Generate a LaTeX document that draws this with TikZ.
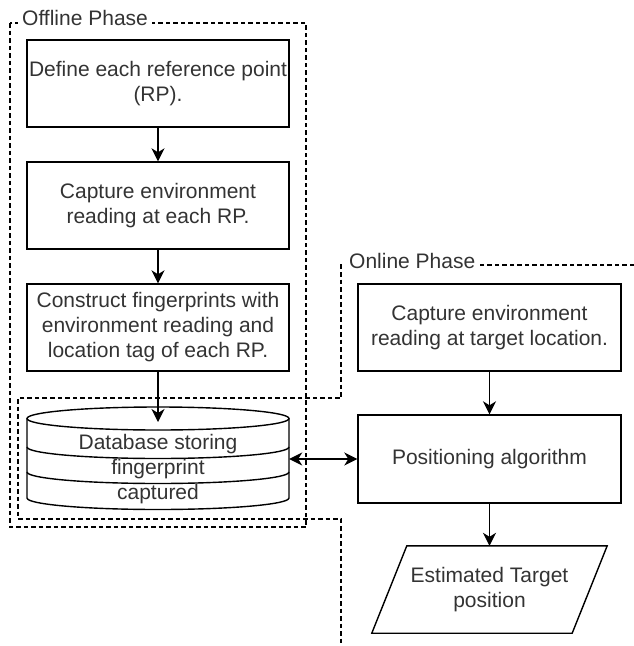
\documentclass[tikz,border=0pt]{standalone}
\usepackage{fontspec}
\setmainfont{Liberation Sans}
\usetikzlibrary{arrows.meta,calc}
\begin{document}
\begin{tikzpicture}[x=1pt,y=-1pt,
  box/.style={draw=black, line width=1.4pt, rectangle, minimum width=262pt, minimum height=87pt, align=center, text=black!80, font=\fontsize{21}{25}\selectfont, inner sep=0pt},
  txt/.style={text=black!80, font=\fontsize{21}{25}\selectfont, align=center},
  grp/.style={dash pattern=on 4.5pt off 3pt, line width=1.1pt},
  arr/.style={-{Stealth[length=13pt,width=13pt,inset=4pt]}, line width=1.5pt},
  darr/.style={{Stealth[length=13pt,width=13pt,inset=4pt]}-{Stealth[length=13pt,width=13pt,inset=4pt]}, line width=1.5pt},
  shp/.style={draw=black, line width=1.4pt},
]
\useasboundingbox (0,0) rectangle (634,646);

% group outlines
\draw[grp] (10,23) rectangle (306,527);
\draw[grp] (634,265) -- (341,265) -- (341,398) -- (18,398) -- (18,519) -- (341,519) -- (341,646);
\node[txt, fill=white, anchor=base west, inner xsep=4pt, inner ysep=1pt] (offl) at (18,25) {Offline Phase};
\node[txt, fill=white, anchor=base west, inner xsep=4pt, inner ysep=1pt] (onl) at (345,268) {Online Phase};

% offline boxes
\node[box] (b1) at (158,83.5) {Define each reference point\\(RP).};
\node[box] (b2) at (158,205.5) {Capture environment\\reading at each RP.};
\node[box] (b3) at (158,327.5) {Construct fingerprints with\\environment reading and\\location tag of each RP.};

% database cylinder
\node[minimum width=262pt, minimum height=103pt, inner sep=0pt] (db) at (158,458.5) {};
\coordinate (dbtop) at (158,422);
\draw[shp] (158,418.5) ellipse [x radius=131pt, y radius=11.5pt];
\draw[shp] (27,418.5) -- (27,498) arc[start angle=180, end angle=360, x radius=131pt, y radius=11.5pt] -- (289,418.5);
\draw[shp] (27,447) arc[start angle=180, end angle=360, x radius=131pt, y radius=11.5pt];
\draw[shp] (27,472) arc[start angle=180, end angle=360, x radius=131pt, y radius=11.5pt];
\node[txt, inner sep=0pt] (dbtxt) at (158,469) {Database storing\\fingerprint\\captured};

% online boxes
\node[box, minimum width=263pt] (b4) at (489.5,327.5) {Capture environment\\reading at target location.};
\node[box, minimum width=263pt, minimum height=88pt] (b5) at (489.5,459) {Positioning algorithm};
\node[txt, minimum width=200pt, minimum height=87pt, inner sep=0pt] (est) at (489.5,589.5) {Estimated Target\\position};
\draw[shp] ($(est.north west)+(17.5pt,0)$) -- ($(est.north east)+(17.5pt,0)$) -- ($(est.south east)+(-17.5pt,0)$) -- ($(est.south west)+(-17.5pt,0)$) -- cycle;

% connectors
\draw[arr] (b1.south) -- (b2.north);
\draw[arr] (b2.south) -- (b3.north);
\draw[arr] (b3.south) -- (dbtop);
\draw[arr] (b4.south) -- (b5.north);
\draw[arr] (b5.south) -- (est.north);
\draw[darr] (db.east |- b5.west) -- (b5.west);
\end{tikzpicture}
\end{document}
